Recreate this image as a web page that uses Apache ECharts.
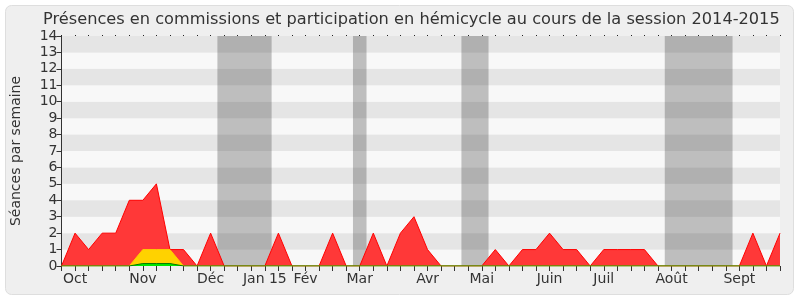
<!DOCTYPE html>
<html>
<head>
<meta charset="utf-8">
<script src="https://cdn.jsdelivr.net/npm/echarts@6/dist/echarts.min.js"></script>
<style>
html,body{margin:0;padding:0;background:#fff;}
#chart{width:800px;height:300px;}
</style>
</head>
<body>
<div id="chart"></div>
<script>
// weekly index 0..53 (session 2014-2015)
const monthLabels = {1:'Oct',6:'Nov',11:'Déc',15:'Jan 15',18:'Fév',22:'Mar',27:'Avr',31:'Mai',36:'Juin',40:'Juil',45:'Août',50:'Sept'};
const presencesRouge = [0,2,1,2,2,4,4,5,1,1,0,2,0,0,0,0,2,0,0,0,2,0,0,2,0,2,3,1,0,0,0,0,1,0,1,1,2,1,1,0,1,1,1,1,0,0,0,0,0,0,0,2,0,2];
const presencesJaune = [0,0,0,0,0,0,1,1,1,0,0,0,0,0,0,0,0,0,0,0,0,0,0,0,0,0,0,0,0,0,0,0,0,0,0,0,0,0,0,0,0,0,0,0,0,0,0,0,0,0,0,0,0,0];
const presencesVert  = [0,0,0,0,0,0,0.15,0.15,0.15,0,0,0,0,0,0,0,0,0,0,0,0,0,0,0,0,0,0,0,0,0,0,0,0,0,0,0,0,0,0,0,0,0,0,0,0,0,0,0,0,0,0,0,0,0];
const vacances = [[11.5,15.5],[21.5,22.5],[29.5,31.5],[44.5,49.5]];

const toXY = arr => arr.map((v,i)=>[i,v]);
const chart = echarts.init(document.getElementById('chart'));
const FONT = 'DejaVu Sans';
chart.setOption({
  animation:false,
  backgroundColor:'#ffffff',
  textStyle:{fontFamily:FONT},
  graphic:[{type:'rect',z:-10,shape:{x:5.5,y:5.5,width:788,height:289,r:6},style:{fill:'#efefef',stroke:'#dedede',lineWidth:1}}],
  title:{text:'Présences en commissions et participation en hémicycle au cours de la session 2014-2015',left:38,top:7,
    textStyle:{fontFamily:FONT,fontSize:16.2,fontWeight:'normal',color:'#333'}},
  grid:{left:61.5,right:20,top:36,bottom:34,containLabel:false,outerBoundsMode:'none'},
  xAxis:[{type:'value',min:0,max:53,interval:1,
    axisLine:{show:false},
    axisTick:{show:true,length:5,lineStyle:{color:'#333'}},
    axisLabel:{fontSize:14,color:'#333',margin:6,formatter:v=>monthLabels[v]||'',showMinLabel:true,showMaxLabel:true,hideOverlap:false},
    splitLine:{show:false}},
   {type:'value',position:'top',min:0,max:53,interval:1,
    axisLine:{show:false},axisTick:{show:true,length:1,lineStyle:{color:'#222'}},axisLabel:{show:false},splitLine:{show:false}}],
  yAxis:{type:'value',min:0,max:14,interval:1,name:'Séances par semaine',nameLocation:'middle',nameGap:38,nameRotate:90,
    nameTextStyle:{fontSize:14,color:'#333'},
    axisLine:{show:true,lineStyle:{color:'#333'}},
    axisTick:{show:true,length:5,lineStyle:{color:'#333'}},
    axisLabel:{fontSize:14,color:'#333',margin:4},
    splitLine:{show:false},
    splitArea:{show:true,areaStyle:{color:['#f8f8f8','#e5e5e5']}}},
  series:[
    {type:'line',data:toXY(presencesRouge),symbol:'none',lineStyle:{color:'#ff0000',width:1},areaStyle:{color:'#ff3838',opacity:1},z:2,
     markArea:{silent:true,itemStyle:{color:'rgba(0,0,0,0.23)'},data:vacances.map(v=>[{xAxis:v[0]},{xAxis:v[1]}])}},
    {type:'line',data:toXY(presencesJaune),symbol:'none',lineStyle:{color:'#ffcc00',width:1},areaStyle:{color:'#ffd200',opacity:1},z:3},
    {type:'line',data:toXY(presencesVert),symbol:'none',lineStyle:{color:'#007a00',width:1},areaStyle:{color:'#00e600',opacity:1},z:4}
  ]
});
</script>
</body>
</html>
